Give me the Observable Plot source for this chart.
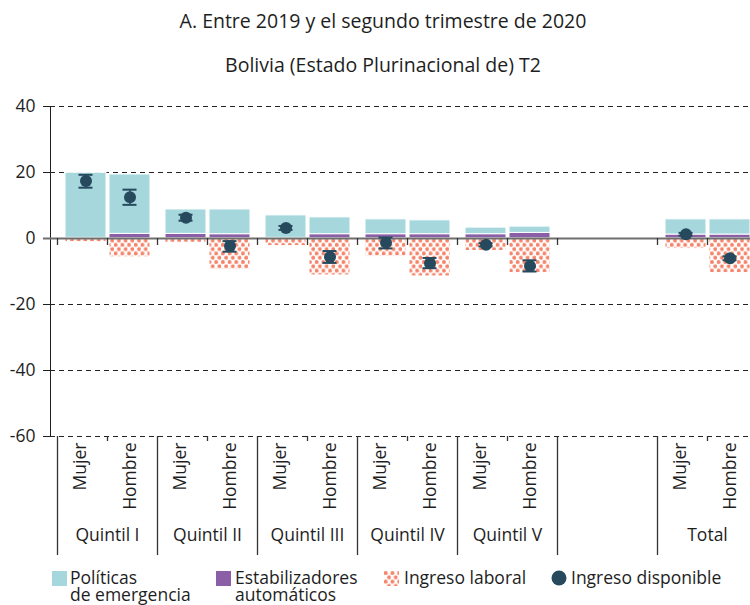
<!DOCTYPE html>
<html><head><meta charset="utf-8">
<script src="https://cdn.jsdelivr.net/npm/d3@7"></script>
<script src="https://cdn.jsdelivr.net/npm/@observablehq/plot@0.6"></script>
<style>
body{margin:0;width:750px;height:605px;position:relative;overflow:hidden;background:#fff;font-family:"Open Sans",sans-serif;color:#1e1e1e}
.t{position:absolute;left:8px;width:750px;text-align:center;font-size:19.5px;line-height:24px;white-space:nowrap}
#chart{position:absolute;left:0;top:88px}
.lg{position:absolute;font-size:17.5px;line-height:17px;white-space:nowrap}
.sw{position:absolute}
</style></head><body>
<svg width="0" height="0" style="position:absolute"><defs>
<pattern id="dots" patternUnits="userSpaceOnUse" width="6.7" height="8.6"><circle cx="1.7" cy="2.1" r="2" fill="#f5846b"/><circle cx="5.05" cy="6.4" r="2" fill="#f5846b"/></pattern>
</defs></svg>
<div class="t" style="top:9px">A. Entre 2019 y el segundo trimestre de 2020</div>
<div class="t" style="top:53px">Bolivia (Estado Plurinacional de) T2</div>
<div id="chart"></div>
<svg class="sw" style="left:52px;top:571px" width="15" height="15"><rect width="15" height="15" fill="#a5d7dd"/></svg>
<div class="lg" style="left:70px;top:569px">Políticas<br>de emergencia</div>
<svg class="sw" style="left:216px;top:571px" width="15" height="15"><rect width="15" height="15" fill="#8b5fa6"/></svg>
<div class="lg" style="left:235px;top:569px">Estabilizadores<br>automáticos</div>
<svg class="sw" style="left:384px;top:571px" width="15" height="15"><rect width="15" height="15" fill="url(#dots)"/></svg>
<div class="lg" style="left:404px;top:569px">Ingreso laboral</div>
<svg class="sw" style="left:551px;top:570px" width="16" height="16"><circle cx="8" cy="8" r="7.5" fill="#26495e"/></svg>
<div class="lg" style="left:571px;top:569px">Ingreso disponible</div>
<script>
const groupLabels = ["Quintil I","Quintil II","Quintil III","Quintil IV","Quintil V","","Total"];
const groupIds = ["I","II","III","IV","V","gap","T"];
const sexes = ["Mujer","Hombre"];
// values for the 12 real categories, order: I-M, I-H, II-M, II-H, ..., V-H, Total-M, Total-H
const estabilizadores = [0.2, 1.4, 1.4, 1.3, 0.2, 1.3, 1.3, 1.3, 1.3, 1.7, 1.2, 1.2];
const emergencia     = [19.7, 18.0, 7.4, 7.5, 6.8, 5.1, 4.5, 4.2, 2.0, 1.9, 4.6, 4.6];
const laboral        = [-1.1, -5.7, -1.3, -9.4, -2.3, -11.2, -5.5, -11.5, -3.8, -10.5, -3.1, -10.5];
const disponible     = [17.4, 12.5, 6.3, -2.3, 3.2, -5.6, -1.3, -7.5, -1.9, -8.3, 1.3, -6.0];
const dispLo         = [15.4, 10.2, 5.4, -4.0, 2.6, -7.4, -3.0, -9.0, -2.4, -10.0, 0.9, -6.6];
const dispHi         = [19.3, 14.8, 7.2, -0.8, 3.8, -3.8, 0.3, -5.9, -1.4, -6.6, 1.7, -5.4];
const gridTicks = [40, 20, -20, -40, -60];

const allKeys = [];
groupIds.forEach(g => sexes.forEach(s => allKeys.push(g + "|" + s)));
const realKeys = allKeys.filter(k => !k.startsWith("gap"));
const rows = realKeys.map((k, i) => ({
  key: k, sex: k.split("|")[1], group: groupLabels[groupIds.indexOf(k.split("|")[0])],
  estab: estabilizadores[i], emerg: emergencia[i], lab: laboral[i],
  disp: disponible[i], lo: dispLo[i], hi: dispHi[i]
}));
const long = rows.flatMap(r => [
  {key: r.key, sex: r.sex, comp: "Estabilizadores", value: r.estab},
  {key: r.key, sex: r.sex, comp: "Políticas", value: r.emerg},
  {key: r.key, sex: r.sex, comp: "Laboral", value: r.lab}
]);
const zeroTickKeys = allKeys.filter(k => k !== "gap|Hombre");
const groupStartKeys = groupIds.map(g => g + "|Mujer");
const midKeys = groupIds.filter(g => g !== "gap").map(g => g + "|Hombre");
const groupRows = groupIds.map((g, i) => ({key: g + "|Hombre", label: groupLabels[i]})).filter(d => d.label);

const navy = "#26495e";
const sexOpts = {
  Mujer: {insetLeft: 8, insetRight: 1, dx: 3.5},
  Hombre: {insetLeft: 2, insetRight: 7, dx: -2.5}
};
const marks = [
  Plot.ruleY(gridTicks, {stroke: "#222", strokeDasharray: "5,4", strokeWidth: 1})
];
for (const s of sexes) {
  const o = sexOpts[s];
  marks.push(Plot.barY(long.filter(d => d.sex === s), {
    x: "key", y: "value", fill: "comp", insetLeft: o.insetLeft, insetRight: o.insetRight,
    stroke: "white", strokeWidth: 1
  }));
}
marks.push(Plot.ruleY([0], {stroke: "#6e6e6e", strokeWidth: 2, insetLeft: -7}));
marks.push(Plot.ruleX(zeroTickKeys, {x: d => d, y1: 0, y2: 0, insetBottom: -7, dx: -25, stroke: "#333", strokeWidth: 1.3}));
marks.push(Plot.ruleX(groupStartKeys, {x: d => d, y1: -60, y2: -60, insetBottom: -119, dx: -25, stroke: "#333", strokeWidth: 1.3}));
marks.push(Plot.ruleX(midKeys, {x: d => d, y1: -60, y2: -60, insetBottom: -5, dx: -25, stroke: "#333", strokeWidth: 1.3}));
for (const s of sexes) {
  const o = sexOpts[s];
  const d = rows.filter(r => r.sex === s);
  marks.push(Plot.ruleX(d, {x: "key", y1: "lo", y2: "hi", stroke: navy, strokeWidth: 1.5, dx: o.dx}));
  marks.push(Plot.tickY(d, {x: "key", y: "lo", stroke: navy, strokeWidth: 2, dx: o.dx, insetLeft: 18, insetRight: 18}));
  marks.push(Plot.tickY(d, {x: "key", y: "hi", stroke: navy, strokeWidth: 2, dx: o.dx, insetLeft: 18, insetRight: 18}));
  marks.push(Plot.dot(d, {x: "key", y: "disp", r: 6, fill: navy, dx: o.dx}));
  marks.push(Plot.text(d, {x: "key", y: -60, text: "sex", rotate: -90, textAnchor: "end", dy: 6, dx: -2, fill: "#1e1e1e"}));
}
marks.push(Plot.text(groupRows, {x: "key", y: -60, text: "label", dx: -25, dy: 99, fill: "#1e1e1e"}));

const chart = Plot.plot({
  width: 750, height: 470,
  marginTop: 18, marginBottom: 122, marginLeft: 50, marginRight: 0,
  style: {fontSize: "17.5px", fontFamily: "Open Sans, sans-serif", color: "#1e1e1e", background: "transparent", overflow: "visible"},
  x: {type: "band", domain: allKeys, range: [57, 757], padding: 0, axis: null},
  y: {domain: [-60, 40], ticks: 5, tickSize: 7, tickPadding: 8, tickFormat: d => String(d), line: true, label: null},
  color: {domain: ["Estabilizadores", "Políticas", "Laboral"], range: ["#8b5fa6", "#a5d7dd", "url(#dots)"]},
  marks
});
document.getElementById("chart").appendChild(chart);
</script>
</body></html>
